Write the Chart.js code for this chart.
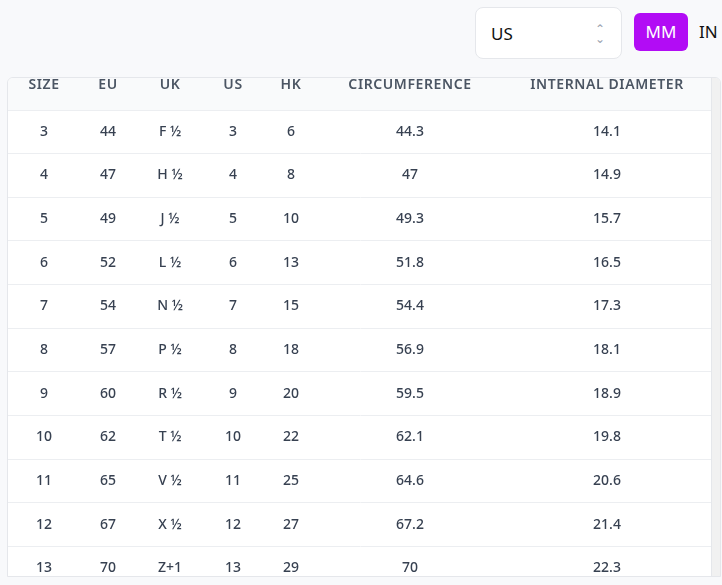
<!DOCTYPE html>
<html><head><meta charset="utf-8">
<script src="https://cdn.jsdelivr.net/npm/chart.js@4"></script>
<style>
body{margin:0;background:#f8f9fb;font-family:"Noto Sans",sans-serif;width:722px;height:585px;overflow:hidden;position:relative}
#sel{position:absolute;left:475px;top:7px;width:147px;height:52px;background:#fff;border:1px solid #e5e7eb;border-radius:8px;box-sizing:border-box;font-size:17px;line-height:52px;padding-left:15px;color:#111}
#sel span{position:absolute;right:16px;top:0;color:#9ca3af;font-size:12px;line-height:10px;padding-top:16px;text-align:center}
#mm{position:absolute;left:634px;top:13px;width:54px;height:38px;background:#b20cf5;color:#fff;border-radius:6px;font-size:17px;text-align:center;line-height:38px}
#in{position:absolute;left:699px;top:13px;font-size:17px;line-height:38px;color:#111}
#wrap{position:absolute;left:7px;top:77px;width:714px;height:500px;overflow:hidden;background:#fff;border:1px solid #e5e7eb;border-radius:6px 6px 0 0;box-sizing:border-box}
#box{position:absolute;left:0;top:0;width:705px;height:512px}
#bar{position:absolute;right:0;top:0;width:8px;height:100%;background:#f1f1f1;border-left:1px solid #e5e7eb}
</style></head><body>
<div id="sel">US<span>&#8963;<br>&#8964;</span></div>
<div id="mm">MM</div><div id="in">IN</div>
<div id="wrap"><div id="box"><canvas id="c"></canvas></div><div id="bar"></div></div>
<script>
const headers = ["SIZE", "EU", "UK", "US", "HK", "CIRCUMFERENCE", "INTERNAL DIAMETER"];
const sizes = ["3", "4", "5", "6", "7", "8", "9", "10", "11", "12", "13"];
const eu = ["44", "47", "49", "52", "54", "57", "60", "62", "65", "67", "70"];
const uk = ["F ½", "H ½", "J ½", "L ½", "N ½", "P ½", "R ½", "T ½", "V ½", "X ½", "Z+1"];
const us = ["3", "4", "5", "6", "7", "8", "9", "10", "11", "12", "13"];
const hk = ["6", "8", "10", "13", "15", "18", "20", "22", "25", "27", "29"];
const circumference = ["44.3", "47", "49.3", "51.8", "54.4", "56.9", "59.5", "62.1", "64.6", "67.2", "70"];
const diameter = ["14.1", "14.9", "15.7", "16.5", "17.3", "18.1", "18.9", "19.8", "20.6", "21.4", "22.3"];

// column centres (layout, in x-axis units 0..705)
const colX = [36, 100, 162, 225, 283, 402, 599];
const columns = [sizes, eu, uk, us, hk, circumference, diameter];

const tablePlugin = {
  id: "table",
  beforeDraw(chart) {
    const { ctx, chartArea, scales } = chart;
    ctx.save();
    ctx.fillStyle = "#f9fafb";
    ctx.fillRect(0, 0, chart.width, chartArea.top);
    ctx.strokeStyle = "#e5e7eb";
    ctx.beginPath(); ctx.moveTo(0, chartArea.top + 0.5); ctx.lineTo(chart.width, chartArea.top + 0.5); ctx.stroke();
    ctx.font = "600 14px 'Noto Sans'";
    ctx.letterSpacing = "0.6px";
    ctx.fillStyle = "#4b5563";
    ctx.textAlign = "center"; ctx.textBaseline = "middle";
    headers.forEach((h, i) => ctx.fillText(h, scales.x.getPixelForValue(colX[i]), 7));
    ctx.restore();
  },
  afterDatasetsDraw(chart) {
    const { ctx, scales } = chart;
    ctx.save();
    ctx.font = "500 14px 'Noto Sans'";
    ctx.fillStyle = "#374151";
    ctx.textAlign = "center"; ctx.textBaseline = "middle";
    columns.forEach((col, ci) => col.forEach((v, ri) => {
      ctx.fillText(v, scales.x.getPixelForValue(colX[ci]), scales.y.getPixelForValue(ri));
    }));
    ctx.restore();
  }
};

new Chart(document.getElementById("c"), {
  type: "scatter",
  data: { datasets: [{ data: sizes.map((s, i) => ({ x: colX[0], y: s })), pointRadius: 0 }] },
  options: {
    responsive: true, maintainAspectRatio: false, animation: false,
    layout: { padding: { top: 32, left: 0, right: 0, bottom: 0 } },
    plugins: { legend: { display: false }, tooltip: { enabled: false } },
    scales: {
      x: { type: "linear", min: 0, max: 705, display: false },
      y: {
        type: "category", labels: sizes, offset: true,
        ticks: { display: false },
        border: { display: false },
        grid: { offset: true, color: "#eceef1", drawTicks: false }
      }
    }
  },
  plugins: [tablePlugin]
});
</script>
</body></html>
